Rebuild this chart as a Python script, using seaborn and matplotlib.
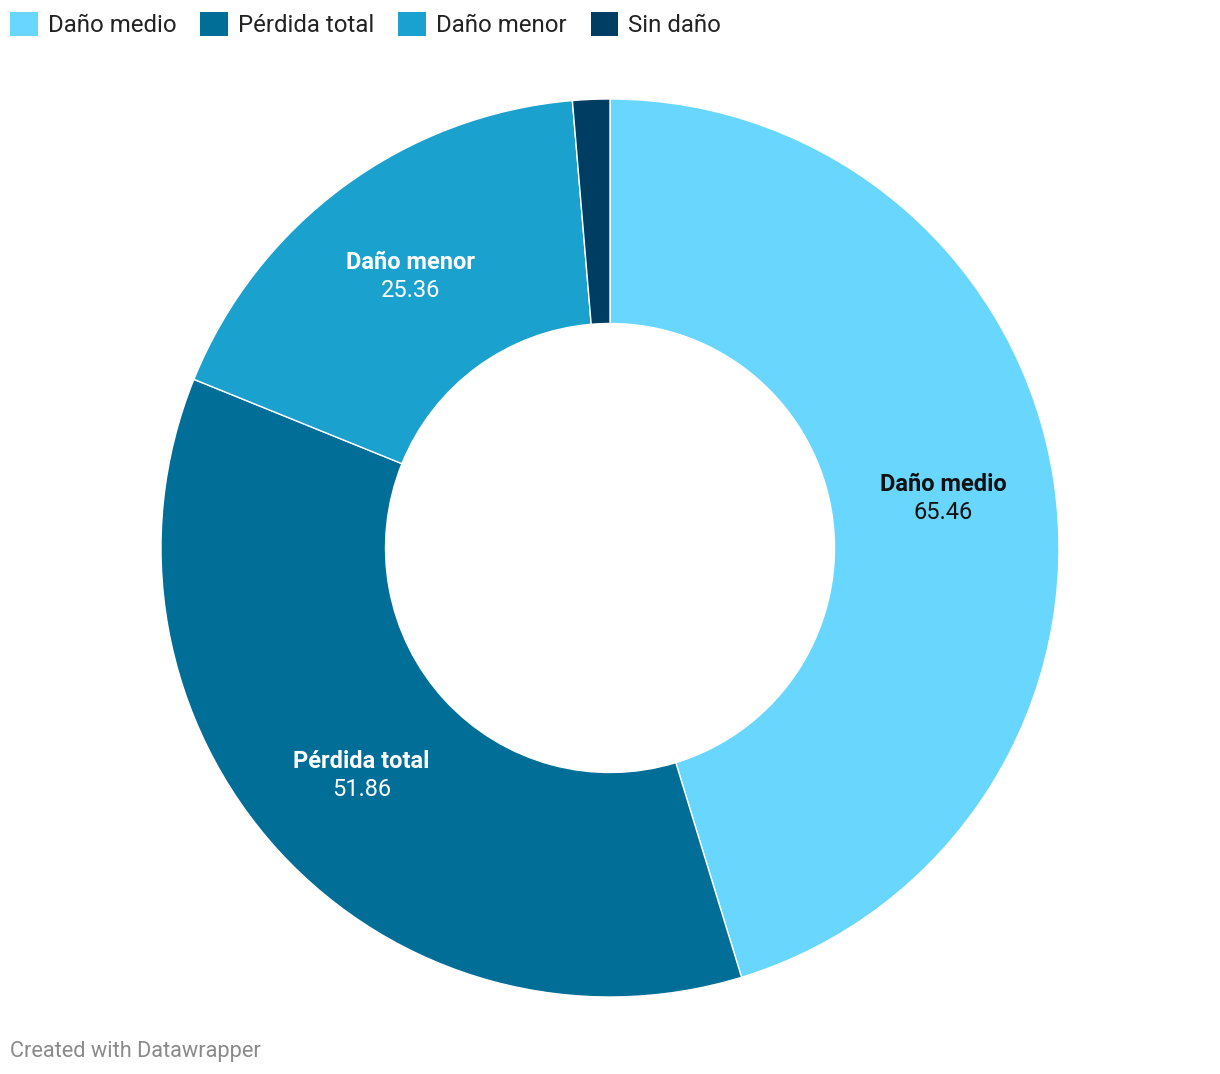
import matplotlib
matplotlib.use("Agg")
import matplotlib.pyplot as plt
import seaborn as sns
import numpy as np
from matplotlib.patches import Patch

sns.set_theme(style="white")
plt.rcParams['font.family'] = ['Roboto', 'DejaVu Sans']

categories = ["Daño medio", "Pérdida total", "Daño menor", "Sin daño"]
values = [65.46, 51.86, 25.36, 1.93]
value_labels = ["65.46", "51.86", "25.36", "1.93"]
colors = ["#69D6FD", "#016E97", "#1AA1CE", "#003D62"]
label_colors = ["#111111", "white", "white", None]

fig = plt.figure(figsize=(12.2, 10.74), dpi=100)
W, H = 1220, 1074
cx, cy, R = 610, 548, 449
ax = fig.add_axes([(cx - R) / W, (H - cy - R) / H, 2 * R / W, 2 * R / H])

wedges, _ = ax.pie(values, colors=colors, startangle=90, counterclock=False,
                   radius=1.0, wedgeprops=dict(width=0.5, edgecolor="white", linewidth=1))
ax.set_xlim(-1, 1)
ax.set_ylim(-1, 1)
ax.set_aspect("equal")
ax.axis("off")

off = 14 / R
for w, cat, vl, lc in zip(wedges, categories, value_labels, label_colors):
    if lc is None:
        continue
    ang = np.deg2rad((w.theta1 + w.theta2) / 2)
    x, y = 0.75 * np.cos(ang), 0.75 * np.sin(ang)
    ax.text(x, y + off, cat, ha="center", va="center", fontsize=17, fontweight="bold", color=lc)
    ax.text(x, y - off, vl, ha="center", va="center", fontsize=17, color=lc)

handles = [Patch(facecolor=c, edgecolor="none", label=l) for c, l in zip(colors, categories)]
fig.legend(handles=handles, loc="upper left", bbox_to_anchor=(10 / W, 1 - 12 / H),
           ncol=4, frameon=False, fontsize=17.3, handlelength=1.15, handleheight=1.15,
           handletextpad=0.42, columnspacing=1.0, borderpad=0, borderaxespad=0,
           labelcolor="#222222")

fig.text(10 / W, 1 - 1052 / H, "Created with Datawrapper", ha="left", va="center",
         fontsize=15.7, color="#8a8a8a")

fig.savefig("out.png", dpi=100, facecolor="white")
